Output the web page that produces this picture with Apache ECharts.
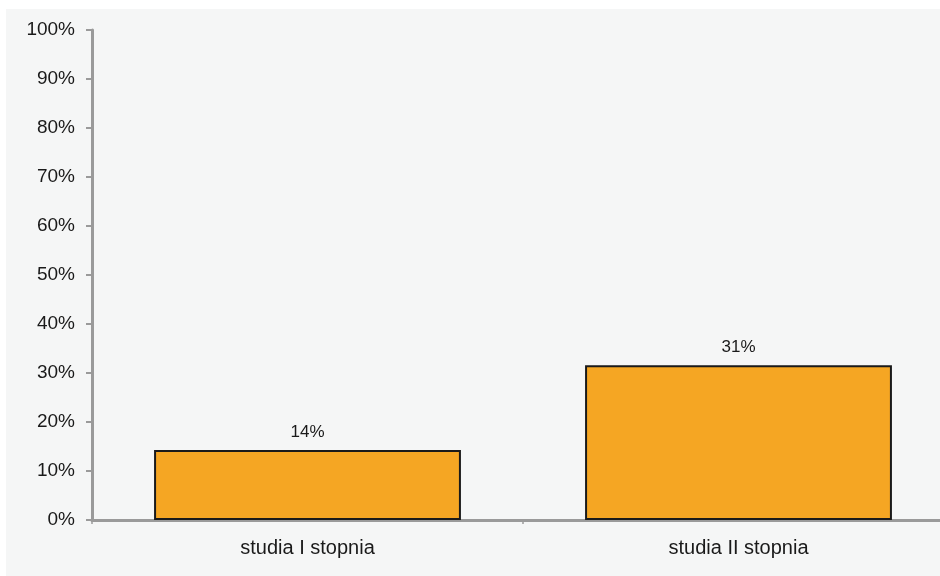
<!DOCTYPE html>
<html>
<head>
<meta charset="utf-8">
<script src="https://cdn.jsdelivr.net/npm/echarts@6/dist/echarts.min.js"></script>
<style>
html,body{margin:0;padding:0;background:#ffffff;overflow:hidden;width:940px;height:576px;}
#bg{position:absolute;left:6px;top:9px;right:0;bottom:0;background:#f5f6f6;}
#chart{position:absolute;left:0;top:0;width:954px;height:576px;}
</style>
</head>
<body>
<div id="bg"></div>
<div id="chart"></div>
<script>
const categories = ['studia I stopnia', 'studia II stopnia'];
const values = [14.3, 31.6];
const yTicks = [0, 10, 20, 30, 40, 50, 60, 70, 80, 90, 100];

const chart = echarts.init(document.getElementById('chart'), null, {renderer: 'canvas'});
chart.setOption({
  backgroundColor: 'transparent',
  animation: false,
  grid: {left: 92, right: 0, top: 30, bottom: 56, containLabel: false},
  xAxis: {
    type: 'category',
    data: categories,
    axisLine: {lineStyle: {color: '#9a9a9a', width: 3}},
    axisTick: {show: true, length: 4, lineStyle: {color: '#9a9a9a', width: 1.5}},
    axisLabel: {color: '#1a1a1a', fontFamily: 'Liberation Sans', fontSize: 20, margin: 18}
  },
  yAxis: {
    type: 'value',
    min: yTicks[0],
    max: yTicks[yTicks.length - 1],
    interval: 10,
    splitLine: {show: false},
    axisLine: {show: true, lineStyle: {color: '#9a9a9a', width: 3}},
    axisTick: {show: true, length: 6, lineStyle: {color: '#9a9a9a', width: 2}},
    axisLabel: {color: '#1a1a1a', fontFamily: 'Liberation Sans', fontSize: 19, margin: 17,
      formatter: v => v + '%'}
  },
  series: [{
    type: 'bar',
    data: values,
    barCategoryGap: '28.8%',
    itemStyle: {color: '#f5a623', borderColor: '#1a1a1a', borderWidth: 2},
    label: {show: true, position: 'top', distance: 9, color: '#1a1a1a',
      fontFamily: 'Liberation Sans', fontSize: 17,
      formatter: p => Math.floor(p.value) + '%'}
  }]
});
</script>
</body>
</html>
